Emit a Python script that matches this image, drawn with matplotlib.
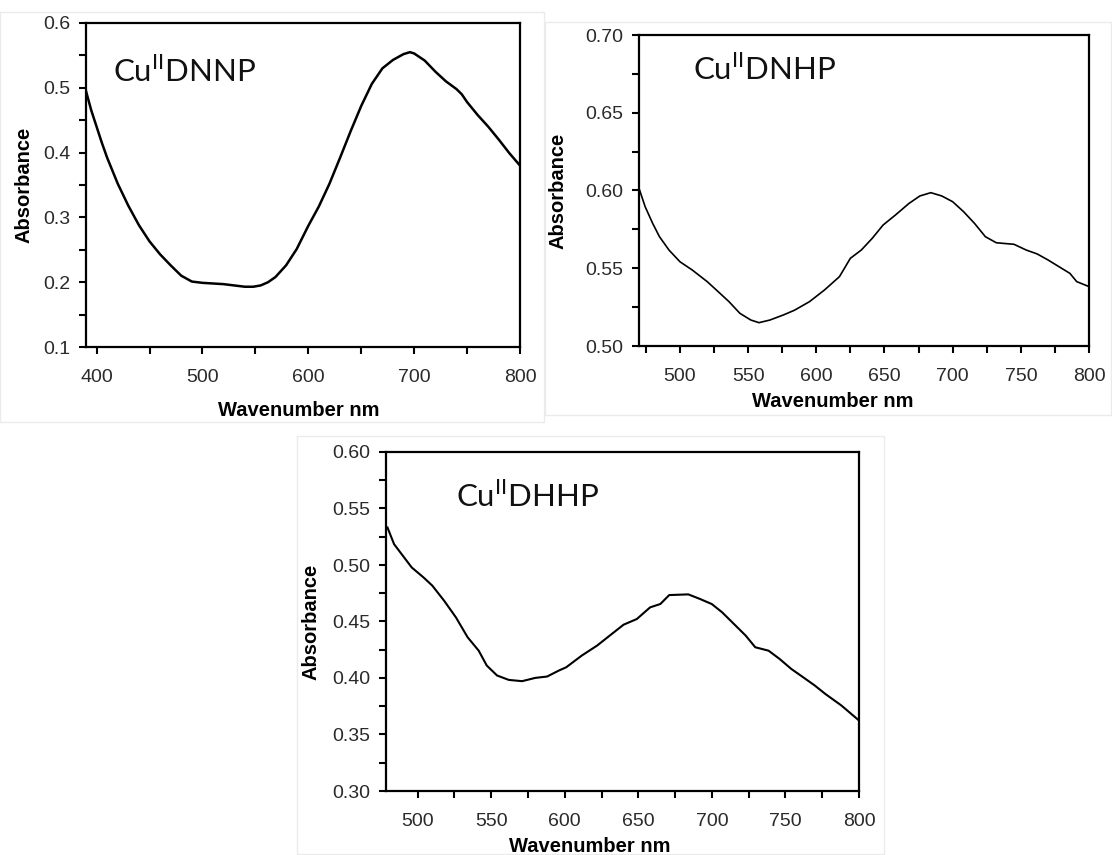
import matplotlib
matplotlib.use("Agg")
import matplotlib.pyplot as plt
from matplotlib.ticker import MultipleLocator, FormatStrFormatter
from matplotlib.lines import Line2D

plt.rcParams['mathtext.fontset'] = 'custom'
plt.rcParams['mathtext.rm'] = 'Lato'

# ---------------- data ----------------
dnnp_nm = [390, 395, 400, 405, 410, 420, 430, 440, 450, 460, 470, 480, 490, 500, 510,
           520, 530, 540, 548, 555, 562, 569, 579, 589, 600, 610, 620, 630, 640, 650,
           660, 670, 680, 690, 696, 700, 710, 720, 730, 740, 745, 750, 760, 770, 780,
           790, 800]
dnnp_abs = [0.495, 0.465, 0.440, 0.415, 0.392, 0.352, 0.318, 0.288, 0.263, 0.243, 0.226,
            0.210, 0.201, 0.199, 0.198, 0.197, 0.195, 0.193, 0.193, 0.195, 0.200, 0.208,
            0.226, 0.251, 0.287, 0.317, 0.352, 0.392, 0.433, 0.472, 0.506, 0.530, 0.543,
            0.552, 0.555, 0.553, 0.542, 0.525, 0.510, 0.498, 0.490, 0.478, 0.458, 0.440,
            0.420, 0.399, 0.380]

dnhp_nm = [470, 474.5, 480, 485, 492, 500, 509, 520, 528, 536, 544, 552, 558, 566, 576,
           584, 595, 606, 617, 625, 633, 641, 649, 658, 668, 676, 684, 692, 700, 708,
           716, 724, 732, 745, 754, 762, 770, 778, 786, 791, 800]
dnhp_abs = [0.6014, 0.5896, 0.5789, 0.5703, 0.5617, 0.5542, 0.5489, 0.5414, 0.5350,
            0.5285, 0.5210, 0.5167, 0.5150, 0.5167, 0.5200, 0.5230, 0.5285, 0.5360,
            0.5446, 0.5564, 0.5617, 0.5692, 0.5778, 0.5842, 0.5917, 0.5965, 0.5986,
            0.5965, 0.5928, 0.5864, 0.5789, 0.5703, 0.5664, 0.5654, 0.5617, 0.5592,
            0.5553, 0.5510, 0.5467, 0.5414, 0.5382]

dhhp_nm = [479.5, 484, 490, 496, 504, 510, 518, 526, 534, 541.5, 547, 554, 562, 571, 580,
           588, 596, 601, 611.5, 622, 632, 640, 649, 658, 665, 671, 684, 692, 700, 707,
           715, 723, 729.5, 738.5, 746, 754, 762, 770, 777, 788, 800]
dhhp_abs = [0.5332, 0.5184, 0.5081, 0.4978, 0.4890, 0.4817, 0.4684, 0.4537, 0.4360,
            0.4242, 0.4110, 0.4022, 0.3983, 0.3972, 0.4001, 0.4013, 0.4066, 0.4095,
            0.4198, 0.4287, 0.4390, 0.4472, 0.4522, 0.4625, 0.4655, 0.4734, 0.4740,
            0.4699, 0.4654, 0.4581, 0.4478, 0.4375, 0.4272, 0.4242, 0.4169, 0.4080,
            0.4007, 0.3933, 0.3860, 0.3757, 0.3624]

titles = [r'Cu$^{\mathrm{II}}$DNNP', r'Cu$^{\mathrm{II}}$DNHP', r'Cu$^{\mathrm{II}}$DHHP']
xlabel = 'Wavenumber nm'
ylabel = 'Absorbance'

# ---------------- figure ----------------
W, H = 1112, 855
fig = plt.figure(figsize=(W / 100, H / 100), dpi=100)
fig.patch.set_facecolor('white')


def add_ax(l, t, r, b):
    return fig.add_axes([l / W, 1 - b / H, (r - l) / W, (b - t) / H])


def frame(l, t, r, b):
    xs = [l / W, r / W, r / W, l / W, l / W]
    ys = [1 - t / H, 1 - t / H, 1 - b / H, 1 - b / H, 1 - t / H]
    fig.add_artist(Line2D(xs, ys, color='#ebebeb', lw=1.0, transform=fig.transFigure))


frame(0, 12, 544, 422)
frame(545, 22, 1111, 415)
frame(297, 436, 884, 854)

specs = [
    dict(box=(86, 23, 520, 347), x=dnnp_nm, y=dnnp_abs, xlim=(390, 800), ylim=(0.1, 0.6),
         xmaj=100, xmin=50, ymaj=0.1, ymin=0.05, fmt='%.1f', lw=1.8,
         title=titles[0], tpos=(0.062, 0.818), ylc=-0.143, xlc=(0.49, -0.195)),
    dict(box=(639, 35, 1089, 346), x=dnhp_nm, y=dnhp_abs, xlim=(470, 800), ylim=(0.5, 0.7),
         xmaj=50, xmin=25, ymaj=0.05, ymin=0.025, fmt='%.2f', lw=1.2,
         title=titles[1], tpos=(0.121, 0.855), ylc=-0.180, xlc=(0.43, -0.18)),
    dict(box=(386, 452, 859, 791), x=dhhp_nm, y=dhhp_abs, xlim=(478.5, 800), ylim=(0.3, 0.6),
         xmaj=50, xmin=25, ymaj=0.05, ymin=0.025, fmt='%.2f', lw=1.5,
         title=titles[2], tpos=(0.148, 0.839), ylc=-0.159, xlc=(0.43, -0.165)),
]

for s in specs:
    ax = add_ax(*s['box'])
    ax.plot(s['x'], s['y'], color='black', lw=s['lw'], solid_joinstyle='round')
    ax.set_xlim(*s['xlim'])
    ax.set_ylim(*s['ylim'])
    ax.xaxis.set_major_locator(MultipleLocator(s['xmaj']))
    ax.xaxis.set_minor_locator(MultipleLocator(s['xmin']))
    ax.yaxis.set_major_locator(MultipleLocator(s['ymaj']))
    ax.yaxis.set_minor_locator(MultipleLocator(s['ymin']))
    ax.yaxis.set_major_formatter(FormatStrFormatter(s['fmt']))
    for sp in ax.spines.values():
        sp.set_linewidth(1.6)
        sp.set_color('black')
    ax.tick_params(which='both', direction='out', length=5, width=1.5, color='black',
                   top=False, right=False)
    ax.tick_params(which='major', labelsize=14, labelcolor='#2a2a2a')
    ax.tick_params(axis='y', which='major', pad=6)
    ax.tick_params(axis='x', which='major', pad=11)
    for lab in ax.get_xticklabels() + ax.get_yticklabels():
        lab.set_family('Liberation Sans')
    ax.set_xlabel(xlabel, fontsize=14.5, fontweight='bold', family='Liberation Sans',
                  va='center')
    ax.set_ylabel(ylabel, fontsize=14.5, fontweight='bold', family='Liberation Sans',
                  va='center')
    ax.xaxis.set_label_coords(*s['xlc'])
    ax.yaxis.set_label_coords(s['ylc'], 0.5)
    ax.text(s['tpos'][0], s['tpos'][1], s['title'], transform=ax.transAxes,
            fontsize=22.5, family='Lato', ha='left', va='baseline', color='#111111')

fig.savefig('out.png', dpi=100, facecolor='white')
